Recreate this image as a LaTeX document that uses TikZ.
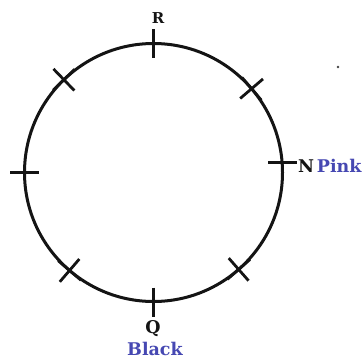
\documentclass[tikz,border=0pt]{standalone}
\usepackage{fontspec}
\setmainfont{DejaVu Serif}
\usetikzlibrary{calc}
\definecolor{labelblue}{RGB}{70,72,178}
\definecolor{ink}{RGB}{20,20,20}
\tikzset{
  ring/.style={draw=ink, line width=3pt},
  tickmark/.style={draw=ink, line width=2.8pt},
  lbl/.style={inner sep=0pt, outer sep=0pt, text=ink, font=\fontsize{17.5}{21}\selectfont\bfseries},
  smalllbl/.style={lbl, font=\fontsize{15}{18}\selectfont\bfseries},
}
\begin{document}
\begin{tikzpicture}[x=1pt,y=-1pt]
\useasboundingbox (0,0) rectangle (364,359);
\coordinate (c) at (153.5,172.5);
\draw[ring] (c) circle[radius=129];
% radial ticks (upright crosses) at R, Q and the left point
\foreach \a/\n in {270/top, 90/bottom, 180/left}{
  \coordinate (p\n) at ($(c)+(\a:129)$);
  \draw[tickmark] ($(c)+(\a:115)$) -- ($(c)+(\a:144)$);
}
% horizontal tick at N
\coordinate (pright) at ($(c)+(-4.5:129)$);
\draw[tickmark] ($(pright)+(-14,0)$) -- ($(pright)+(15,0)$);
% X marks on the diagonals
\foreach \a/\n in {-40.5/ur, 48.7/lr, 130.6/ll, 226/ul}{
  \coordinate (p\n) at ($(c)+(\a:129)$);
  \draw[tickmark] ($(c)+(\a:114)$) -- ($(c)+(\a:144)$);
  \draw[tickmark] ($(p\n)+(\a+90:15)$) -- ($(p\n)+(\a-90:15)$);
}
% labels
\node[smalllbl, anchor=base] (R) at (158,23) {R};
\node[lbl, anchor=base west] (N) at (298,172) {N\,\textcolor{labelblue}{Pink}};
\node[lbl, anchor=base] (Q) at (153,333) {Q};
\node[lbl, anchor=base, text=labelblue] (black) at (155,355) {Black};
% small speck
\fill[ink!80] (338,67) circle[radius=1.4];
\end{tikzpicture}
\end{document}
